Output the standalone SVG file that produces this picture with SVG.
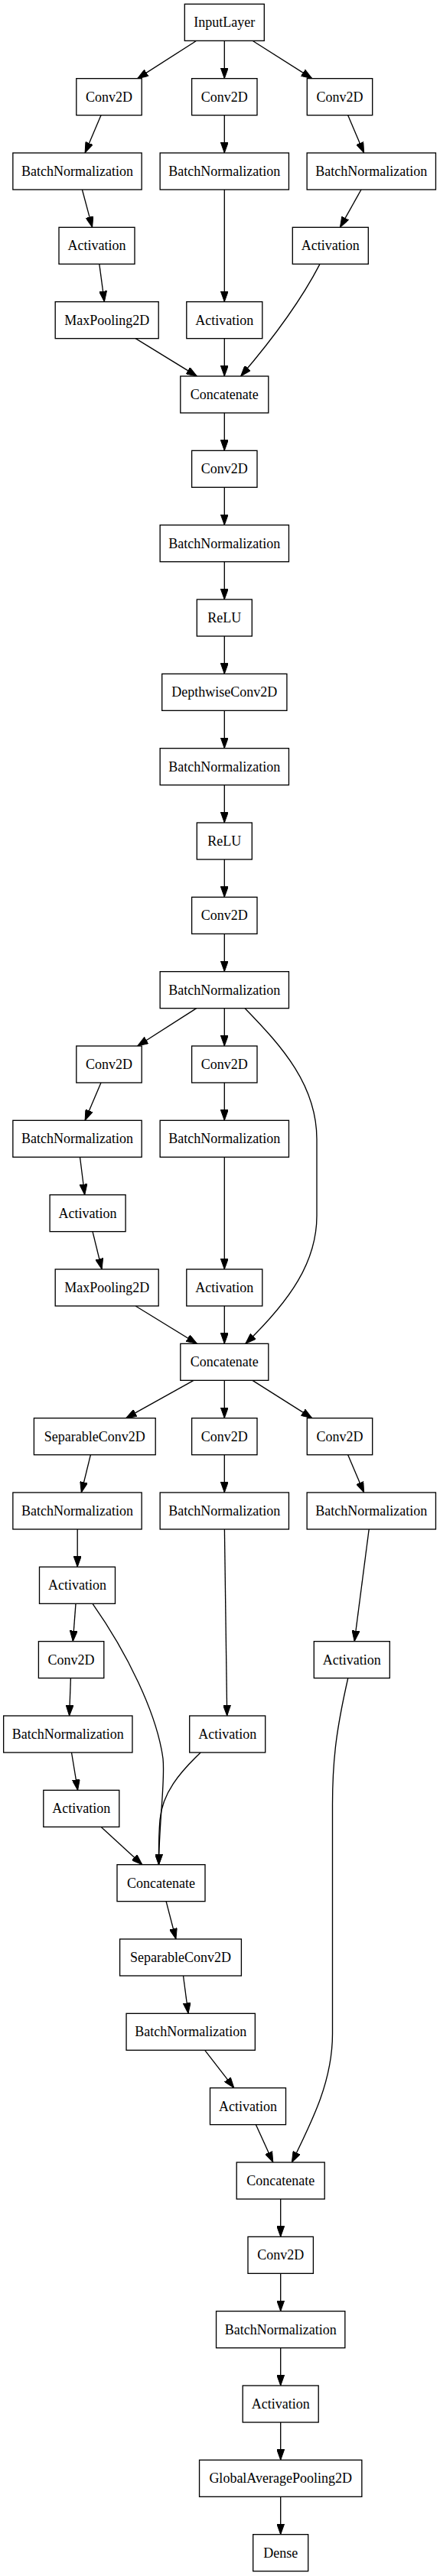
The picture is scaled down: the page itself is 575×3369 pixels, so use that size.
<svg xmlns="http://www.w3.org/2000/svg" width="575" height="3369" viewBox="0 0 575 3369">
<style>
.n rect{fill:#fff;stroke:#000;stroke-width:1.33}
.n text{font-family:"Liberation Serif","Times New Roman",serif;font-size:18px;text-anchor:middle;fill:#000}
#edges path{fill:none;stroke:#000;stroke-width:1.33;marker-end:url(#ah)}
</style>
<defs>
<marker id="ah" markerUnits="userSpaceOnUse" markerWidth="14" markerHeight="10" viewBox="0 0 14 10" refX="14" refY="5" orient="auto"><path d="M0,0 L14,5 L0,10 z" fill="#000" stroke="#000" stroke-width="1"/></marker>
</defs>
<rect x="0" y="0" width="575" height="3369" fill="#fff"/>
<g id="edges">
<path d="M256.7,53.3 L179.7,102.67"/>
<path d="M293.3,53.3 V102.67"/>
<path d="M330,53.3 L407.8,102.67"/>
<path d="M132,150.67 L111.1,200"/>
<path d="M293.3,150.67 V200"/>
<path d="M454.7,150.67 L475.6,200"/>
<path d="M107.4,248 L120.6,297.33"/>
<path d="M293.3,248 V394.67"/>
<path d="M472,248 L444.4,297.33"/>
<path d="M129.8,345.33 L136.4,394.67"/>
<path d="M418,345.33 C398,384 366,432 314.6,492"/>
<path d="M177.1,442.67 L257.4,492"/>
<path d="M293.3,442.67 V492"/>
<path d="M293.3,540 V589.33"/>
<path d="M293.3,637.33 V686.67"/>
<path d="M293.3,734.67 V784"/>
<path d="M293.3,832 V881.33"/>
<path d="M293.3,929.33 V978.67"/>
<path d="M293.3,1026.67 V1076"/>
<path d="M293.3,1124 V1173.33"/>
<path d="M293.3,1221.33 V1270.67"/>
<path d="M256.7,1318.67 L179.7,1368"/>
<path d="M293.3,1318.67 V1368"/>
<path d="M320.1,1318.67 C370,1370 414,1420 414,1490 L414,1590 C414,1650 380,1700 320.9,1757.33"/>
<path d="M132,1416 L111.1,1465.33"/>
<path d="M293.3,1416 V1465.33"/>
<path d="M104.5,1513.33 L110.7,1562.67"/>
<path d="M293.3,1513.33 V1660"/>
<path d="M121,1610.67 L133.1,1660"/>
<path d="M177.1,1708 L257.4,1757.33"/>
<path d="M293.3,1708 V1757.33"/>
<path d="M253,1805.33 L164.6,1854.67"/>
<path d="M293.3,1805.33 V1854.67"/>
<path d="M330,1805.33 L407.8,1854.67"/>
<path d="M118.4,1902.67 L106.3,1952"/>
<path d="M293.3,1902.67 V1952"/>
<path d="M454.7,1902.67 L475.6,1952"/>
<path d="M101.2,2000 V2049.33"/>
<path d="M293.4,2000 L296.7,2244"/>
<path d="M482.2,2000 L463.2,2146.67"/>
<path d="M99,2097.33 L95.3,2146.67"/>
<path d="M121,2097.33 C165,2160 205,2240 213,2300 C216,2330 208,2380 207.5,2438.67"/>
<path d="M262.2,2292 C235,2318 212,2345 209,2380 C207,2405 207.5,2420 207.5,2438.67"/>
<path d="M454.7,2195 C440,2260 434.5,2300 434.5,2360 L434.5,2660 C434.5,2720 410,2770 381.4,2828"/>
<path d="M92.4,2194.67 L90.6,2244"/>
<path d="M93.5,2292 L101.6,2341.33"/>
<path d="M132,2389.33 L185.9,2438.67"/>
<path d="M217.1,2486.67 L229.9,2536"/>
<path d="M239.5,2584 L246,2633.33"/>
<path d="M267.7,2681.33 L305.8,2730.67"/>
<path d="M334.4,2778.67 L356.8,2828"/>
<path d="M366.7,2876 V2925.33"/>
<path d="M366.7,2973.33 V3022.67"/>
<path d="M366.7,3070.67 V3120"/>
<path d="M366.7,3168 V3217.33"/>
<path d="M366.7,3265.33 V3314.67"/>
</g>
<g id="n0" class="n"><rect x="241.3" y="5.33" width="104" height="48"/><text x="293.3" y="35.33">InputLayer</text></g>
<g id="n1" class="n"><rect x="99.8" y="102.67" width="85.4" height="48"/><text x="142.5" y="132.67">Conv2D</text></g>
<g id="n2" class="n"><rect x="250.6" y="102.67" width="85.4" height="48"/><text x="293.3" y="132.67">Conv2D</text></g>
<g id="n3" class="n"><rect x="401.3" y="102.67" width="85.4" height="48"/><text x="444" y="132.67">Conv2D</text></g>
<g id="n4" class="n"><rect x="16.85" y="200" width="168.3" height="48"/><text x="101" y="230">BatchNormalization</text></g>
<g id="n5" class="n"><rect x="209.15" y="200" width="168.3" height="48"/><text x="293.3" y="230">BatchNormalization</text></g>
<g id="n6" class="n"><rect x="401.15" y="200" width="168.3" height="48"/><text x="485.3" y="230">BatchNormalization</text></g>
<g id="n7" class="n"><rect x="77" y="297.33" width="99" height="48"/><text x="126.5" y="327.33">Activation</text></g>
<g id="n8" class="n"><rect x="382.3" y="297.33" width="99" height="48"/><text x="431.8" y="327.33">Activation</text></g>
<g id="n9" class="n"><rect x="72.2" y="394.67" width="135" height="48"/><text x="139.7" y="424.67">MaxPooling2D</text></g>
<g id="n10" class="n"><rect x="243.8" y="394.67" width="99" height="48"/><text x="293.3" y="424.67">Activation</text></g>
<g id="n11" class="n"><rect x="235.8" y="492" width="115" height="48"/><text x="293.3" y="522">Concatenate</text></g>
<g id="n12" class="n"><rect x="250.6" y="589.33" width="85.4" height="48"/><text x="293.3" y="619.33">Conv2D</text></g>
<g id="n13" class="n"><rect x="209.15" y="686.67" width="168.3" height="48"/><text x="293.3" y="716.67">BatchNormalization</text></g>
<g id="n14" class="n"><rect x="257.3" y="784" width="72" height="48"/><text x="293.3" y="814">ReLU</text></g>
<g id="n15" class="n"><rect x="211.7" y="881.33" width="163.2" height="48"/><text x="293.3" y="911.33">DepthwiseConv2D</text></g>
<g id="n16" class="n"><rect x="209.15" y="978.67" width="168.3" height="48"/><text x="293.3" y="1008.67">BatchNormalization</text></g>
<g id="n17" class="n"><rect x="257.3" y="1076" width="72" height="48"/><text x="293.3" y="1106">ReLU</text></g>
<g id="n18" class="n"><rect x="250.6" y="1173.33" width="85.4" height="48"/><text x="293.3" y="1203.33">Conv2D</text></g>
<g id="n19" class="n"><rect x="209.15" y="1270.67" width="168.3" height="48"/><text x="293.3" y="1300.67">BatchNormalization</text></g>
<g id="n20" class="n"><rect x="99.8" y="1368" width="85.4" height="48"/><text x="142.5" y="1398">Conv2D</text></g>
<g id="n21" class="n"><rect x="250.6" y="1368" width="85.4" height="48"/><text x="293.3" y="1398">Conv2D</text></g>
<g id="n22" class="n"><rect x="16.85" y="1465.33" width="168.3" height="48"/><text x="101" y="1495.33">BatchNormalization</text></g>
<g id="n23" class="n"><rect x="209.15" y="1465.33" width="168.3" height="48"/><text x="293.3" y="1495.33">BatchNormalization</text></g>
<g id="n24" class="n"><rect x="65.1" y="1562.67" width="99" height="48"/><text x="114.6" y="1592.67">Activation</text></g>
<g id="n25" class="n"><rect x="72.2" y="1660" width="135" height="48"/><text x="139.7" y="1690">MaxPooling2D</text></g>
<g id="n26" class="n"><rect x="243.8" y="1660" width="99" height="48"/><text x="293.3" y="1690">Activation</text></g>
<g id="n27" class="n"><rect x="235.8" y="1757.33" width="115" height="48"/><text x="293.3" y="1787.33">Concatenate</text></g>
<g id="n28" class="n"><rect x="44.4" y="1854.67" width="158.8" height="48"/><text x="123.8" y="1884.67">SeparableConv2D</text></g>
<g id="n29" class="n"><rect x="250.6" y="1854.67" width="85.4" height="48"/><text x="293.3" y="1884.67">Conv2D</text></g>
<g id="n30" class="n"><rect x="401.3" y="1854.67" width="85.4" height="48"/><text x="444" y="1884.67">Conv2D</text></g>
<g id="n31" class="n"><rect x="16.85" y="1952" width="168.3" height="48"/><text x="101" y="1982">BatchNormalization</text></g>
<g id="n32" class="n"><rect x="209.15" y="1952" width="168.3" height="48"/><text x="293.3" y="1982">BatchNormalization</text></g>
<g id="n33" class="n"><rect x="401.15" y="1952" width="168.3" height="48"/><text x="485.3" y="1982">BatchNormalization</text></g>
<g id="n34" class="n"><rect x="51.5" y="2049.33" width="99" height="48"/><text x="101" y="2079.33">Activation</text></g>
<g id="n35" class="n"><rect x="50.4" y="2146.67" width="85.4" height="48"/><text x="93.1" y="2176.67">Conv2D</text></g>
<g id="n36" class="n"><rect x="410.3" y="2146.67" width="99" height="48"/><text x="459.8" y="2176.67">Activation</text></g>
<g id="n37" class="n"><rect x="4.65" y="2244" width="168.3" height="48"/><text x="88.8" y="2274">BatchNormalization</text></g>
<g id="n38" class="n"><rect x="247.7" y="2244" width="99" height="48"/><text x="297.2" y="2274">Activation</text></g>
<g id="n39" class="n"><rect x="56.8" y="2341.33" width="99" height="48"/><text x="106.3" y="2371.33">Activation</text></g>
<g id="n40" class="n"><rect x="153" y="2438.67" width="115" height="48"/><text x="210.5" y="2468.67">Concatenate</text></g>
<g id="n41" class="n"><rect x="156.6" y="2536" width="158.8" height="48"/><text x="236" y="2566">SeparableConv2D</text></g>
<g id="n42" class="n"><rect x="165.05" y="2633.33" width="168.3" height="48"/><text x="249.2" y="2663.33">BatchNormalization</text></g>
<g id="n43" class="n"><rect x="274.5" y="2730.67" width="99" height="48"/><text x="324" y="2760.67">Activation</text></g>
<g id="n44" class="n"><rect x="309.2" y="2828" width="115" height="48"/><text x="366.7" y="2858">Concatenate</text></g>
<g id="n45" class="n"><rect x="324" y="2925.33" width="85.4" height="48"/><text x="366.7" y="2955.33">Conv2D</text></g>
<g id="n46" class="n"><rect x="282.55" y="3022.67" width="168.3" height="48"/><text x="366.7" y="3052.67">BatchNormalization</text></g>
<g id="n47" class="n"><rect x="317.2" y="3120" width="99" height="48"/><text x="366.7" y="3150">Activation</text></g>
<g id="n48" class="n"><rect x="260.55" y="3217.33" width="212.3" height="48"/><text x="366.7" y="3247.33">GlobalAveragePooling2D</text></g>
<g id="n49" class="n"><rect x="330.7" y="3314.67" width="72" height="48"/><text x="366.7" y="3344.67">Dense</text></g>
</svg>
